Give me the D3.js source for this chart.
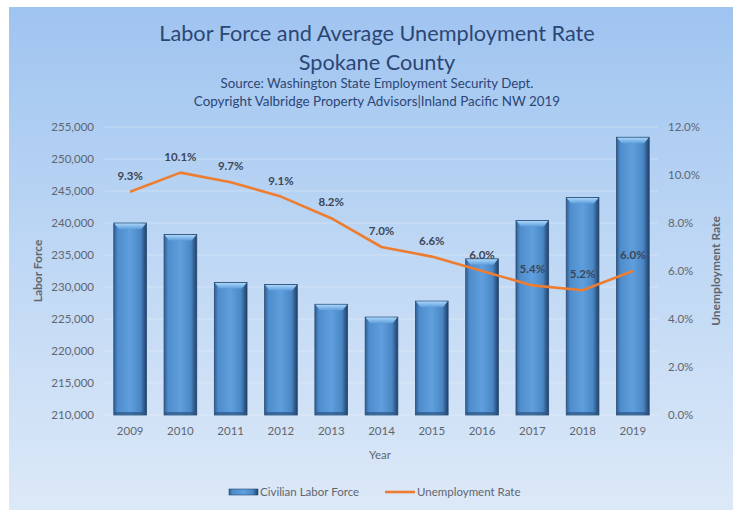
<!DOCTYPE html>
<html>
<head>
<meta charset="utf-8">
<script src="https://cdn.jsdelivr.net/npm/d3@7/dist/d3.min.js"></script>
<style>
  body { margin: 0; background: #fff; }
  svg { display: block; font-family: Lato, "Open Sans", sans-serif; }
</style>
</head>
<body>
<svg id="chart" width="737" height="510"></svg>
<script>
'use strict';

var years      = ["2009","2010","2011","2012","2013","2014","2015","2016","2017","2018","2019"];
var laborForce = [240000, 238200, 230700, 230400, 227300, 225300, 227800, 234400, 240400, 244000, 253400];
var unempRate  = [9.3, 10.1, 9.7, 9.1, 8.2, 7.0, 6.6, 6.0, 5.4, 5.2, 6.0];
var leftTicks  = d3.range(210000, 255001, 5000);
var rightTicks = [0, 2, 4, 6, 8, 10, 12];

var margin = {top: 127, right: 79, bottom: 95, left: 105},
    W = 737, H = 510,
    width  = W - margin.left - margin.right,
    height = H - margin.top - margin.bottom;

var svg = d3.select("#chart");
var defs = svg.append("defs");

// background gradient
var bg = defs.append("linearGradient").attr("id", "bg")
    .attr("x1", 0).attr("y1", 0).attr("x2", 0).attr("y2", 1);
bg.append("stop").attr("offset", "0%").attr("stop-color", "#9fc4f0");
bg.append("stop").attr("offset", "45%").attr("stop-color", "#bcd6f4");
bg.append("stop").attr("offset", "100%").attr("stop-color", "#dde9f8");

// bar body gradient (bevelled look)
var bar = defs.append("linearGradient").attr("id", "barg")
    .attr("x1", 0).attr("y1", 0).attr("x2", 1).attr("y2", 0);
bar.append("stop").attr("offset", "0%").attr("stop-color", "#2f5f95");
bar.append("stop").attr("offset", "12%").attr("stop-color", "#4f8ccb");
bar.append("stop").attr("offset", "50%").attr("stop-color", "#5f9fdd");
bar.append("stop").attr("offset", "82%").attr("stop-color", "#4a86c4");
bar.append("stop").attr("offset", "100%").attr("stop-color", "#1f3f66");

var cap = defs.append("linearGradient").attr("id", "capg")
    .attr("x1", 0).attr("y1", 0).attr("x2", 0).attr("y2", 1);
cap.append("stop").attr("offset", "0%").attr("stop-color", "#a9d5f8");
cap.append("stop").attr("offset", "100%").attr("stop-color", "#5f9fdd");

svg.append("rect")
    .attr("x", 9).attr("y", 7).attr("width", 724).attr("height", 510)
    .attr("fill", "url(#bg)");

// titles
var titleColor = "#2c4675";
svg.append("text").attr("x", 377).attr("y", 41).attr("text-anchor", "middle")
    .style("font-size", "21.7px").style("fill", titleColor)
    .text("Labor Force and Average Unemployment Rate");
svg.append("text").attr("x", 377).attr("y", 70).attr("text-anchor", "middle")
    .style("font-size", "21.7px").style("fill", titleColor)
    .text("Spokane County");
svg.append("text").attr("x", 377).attr("y", 88).attr("text-anchor", "middle")
    .style("font-size", "13.3px").style("fill", titleColor)
    .text("Source: Washington State Employment Security Dept.");
svg.append("text").attr("x", 377).attr("y", 106).attr("text-anchor", "middle")
    .style("font-size", "13.4px").style("fill", titleColor)
    .text("Copyright Valbridge Property Advisors|Inland Pacific NW 2019");

var g = svg.append("g")
    .attr("transform", "translate(" + margin.left + "," + margin.top + ")");

var x  = d3.scaleBand().domain(years).range([0, width]).paddingInner(0.35).paddingOuter(0.175);
var yL = d3.scaleLinear().domain([210000, 255000]).range([height, 0]);
var yR = d3.scaleLinear().domain([0, 12]).range([height, 0]);

// gridlines
g.selectAll("line.grid").data(leftTicks).enter().append("line")
    .attr("class", "grid")
    .attr("x1", 0).attr("x2", width)
    .attr("y1", function(d){ return yL(d); })
    .attr("y2", function(d){ return yL(d); })
    .style("stroke", "#ffffff").style("stroke-opacity", 0.3).style("stroke-width", 1);

// axes
var axisColor = "#5f6670";
var leftAxis = g.append("g")
    .call(d3.axisLeft(yL).tickValues(leftTicks).tickFormat(d3.format(",")).tickSize(0).tickPadding(11));
var rightAxis = g.append("g").attr("transform", "translate(" + width + ",0)")
    .call(d3.axisRight(yR).tickValues(rightTicks).tickFormat(function(d){ return d.toFixed(1) + "%"; })
        .tickSize(0).tickPadding(10));
var bottomAxis = g.append("g").attr("transform", "translate(0," + height + ")")
    .call(d3.axisBottom(x).tickSize(0).tickPadding(12));
[leftAxis, rightAxis, bottomAxis].forEach(function(a){
    a.select(".domain").remove();
    a.selectAll("text").style("font-family", "Lato, sans-serif").style("font-size", "11.5px").style("fill", axisColor);
});

// bars
var bars = g.selectAll("g.bar").data(laborForce).enter().append("g").attr("class", "bar");
bars.append("rect")
    .attr("x", function(d, i){ return x(years[i]); })
    .attr("y", function(d){ return yL(d); })
    .attr("width", x.bandwidth())
    .attr("height", function(d){ return height - yL(d); })
    .attr("fill", "url(#barg)")
    .attr("stroke", "#274a72").attr("stroke-width", 0.8);
bars.append("path")
    .attr("d", function(d, i){
        var x0 = x(years[i]), w = x.bandwidth(), y0 = yL(d);
        return "M" + (x0 + 0.5) + "," + (y0 + 0.5) + "L" + (x0 + w - 0.5) + "," + (y0 + 0.5) +
               "L" + (x0 + w - 5) + "," + (y0 + 6) + "L" + (x0 + 5) + "," + (y0 + 6) + "Z";
    })
    .attr("fill", "url(#capg)");
bars.append("rect")
    .attr("x", function(d, i){ return x(years[i]) + 0.5; })
    .attr("y", height - 3)
    .attr("width", x.bandwidth() - 1)
    .attr("height", 2.5)
    .attr("fill", "#2c5684").attr("opacity", 0.7);

// unemployment line
var cx = function(i){ return x(years[i]) + x.bandwidth() / 2; };
var line = d3.line()
    .x(function(d, i){ return cx(i); })
    .y(function(d){ return yR(d); });
g.append("path").datum(unempRate)
    .attr("d", line)
    .style("fill", "none").style("stroke", "#ed7d31").style("stroke-width", 2.6)
    .style("stroke-linejoin", "round");

g.selectAll("text.lbl").data(unempRate).enter().append("text")
    .attr("class", "lbl")
    .attr("x", function(d, i){ return cx(i); })
    .attr("y", function(d){ return yR(d) - 12; })
    .attr("text-anchor", "middle")
    .style("font-size", "11.5px").style("font-weight", "bold").style("fill", "#3c4656")
    .text(function(d){ return d.toFixed(1) + "%"; });

// axis titles
svg.append("text")
    .attr("transform", "translate(42," + (margin.top + height / 2) + ") rotate(-90)")
    .attr("text-anchor", "middle")
    .style("font-size", "12px").style("font-weight", "bold").style("fill", axisColor)
    .text("Labor Force");
svg.append("text")
    .attr("transform", "translate(720," + (margin.top + height / 2) + ") rotate(-90)")
    .attr("text-anchor", "middle")
    .style("font-size", "12px").style("font-weight", "bold").style("fill", axisColor)
    .text("Unemployment Rate");
svg.append("text")
    .attr("x", 380).attr("y", 459).attr("text-anchor", "middle")
    .style("font-size", "11.5px").style("fill", axisColor)
    .text("Year");

// legend
var legend = svg.append("g").attr("transform", "translate(229,492)");
legend.append("rect").attr("x", 0).attr("y", -3).attr("width", 29).attr("height", 6)
    .attr("fill", "url(#barg)").attr("stroke", "#274a72").attr("stroke-width", 0.6);
legend.append("text").attr("x", 31).attr("y", 4)
    .style("font-size", "11.5px").style("fill", axisColor).text("Civilian Labor Force");
legend.append("line").attr("x1", 156).attr("x2", 186).attr("y1", 0).attr("y2", 0)
    .style("stroke", "#ed7d31").style("stroke-width", 2.6);
legend.append("text").attr("x", 188).attr("y", 4)
    .style("font-size", "11.5px").style("fill", axisColor).text("Unemployment Rate");
</script>
</body>
</html>
